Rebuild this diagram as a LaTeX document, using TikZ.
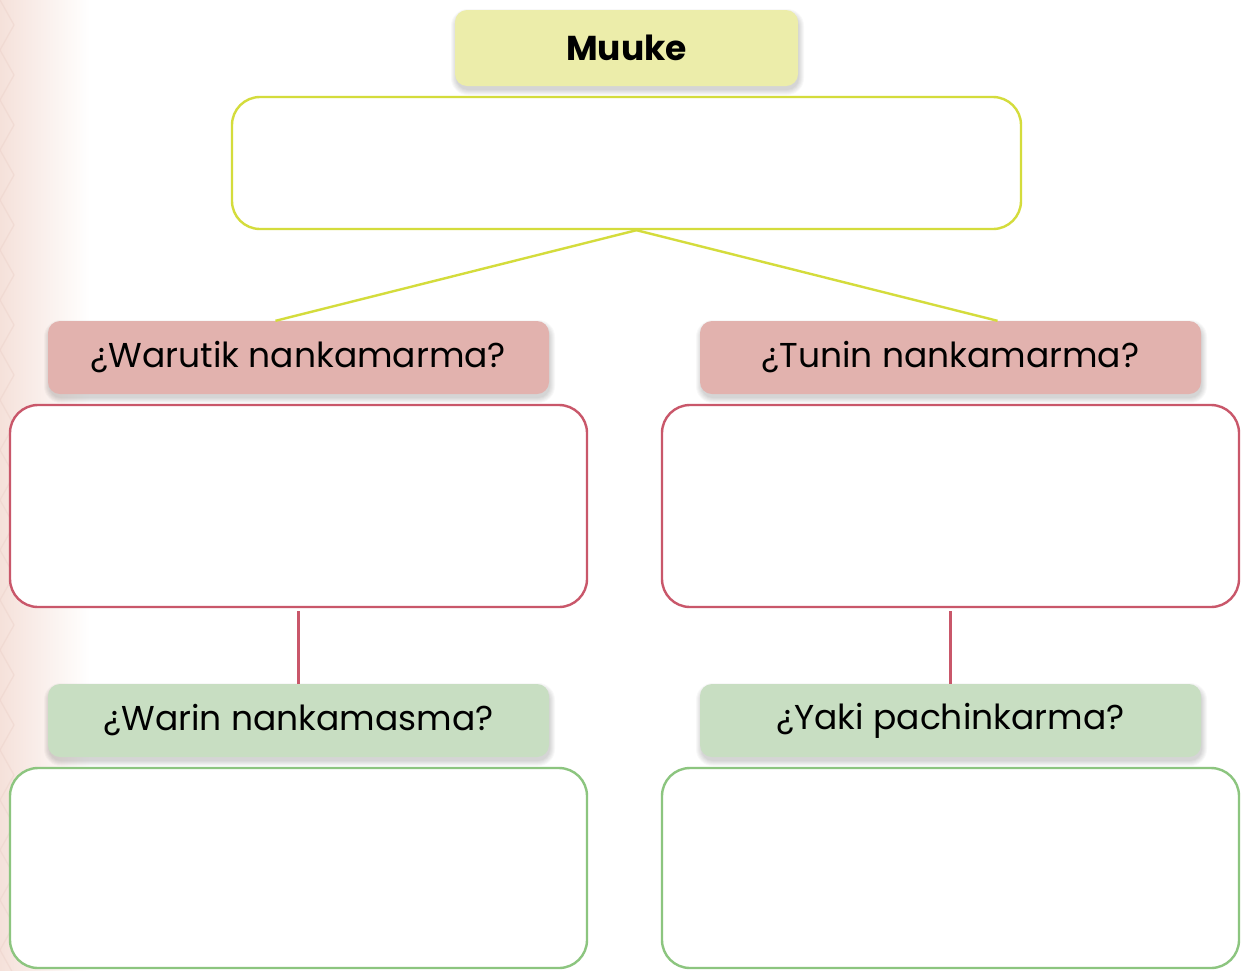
\documentclass[tikz,border=0pt]{standalone}
\usepackage{fontspec}
\setmainfont{Poppins}
\usetikzlibrary{calc}
\definecolor{ylw}{HTML}{D4DC3C}
\definecolor{ylwfill}{HTML}{ECEDAA}
\definecolor{redb}{HTML}{C9576A}
\definecolor{redfill}{HTML}{E2B2AE}
\definecolor{grnb}{HTML}{8CC57F}
\definecolor{grnfill}{HTML}{C8DEC2}
\definecolor{bgpink}{HTML}{F5E1DA}
\definecolor{zig}{HTML}{EDD3CB}
\newcommand{\mysoftshadow}[4]{%
  \foreach \s in {0,1,2,3,4,5} {
    \fill[black, opacity=0.028, rounded corners={12pt+\s pt}]
      ({#1-#3/2-\s+1},{#2-#4/2-\s+4}) rectangle ({#1+#3/2+\s+1},{#2+#4/2+\s+4});
  }%
}
\tikzset{
  header/.style={rectangle, rounded corners=12pt, minimum width=501pt, minimum height=73pt,
    inner sep=0pt, font=\fontsize{34.5}{38}\selectfont},
  answer/.style={rectangle, rounded corners=28pt, line width=2.4pt, fill=white, inner sep=0pt},
  conn/.style={line width=2.4pt},
}
\begin{document}
\begin{tikzpicture}[x=1pt,y=-1pt]
\useasboundingbox (0,0) rectangle (1242,970);
\fill[white] (0,0) rectangle (1242,970);
\shade[left color=bgpink, right color=white] (0,0) rectangle (90,970);
\foreach \k in {0,...,20} {
  \draw[zig, line width=1.3pt, opacity=0.5] (0,{\k*50}) -- (14,{\k*50+25}) -- (0,{\k*50+50});
}
% shadows
\mysoftshadow{626.5}{48}{343}{76}
\mysoftshadow{298.5}{357.5}{501}{73}
\mysoftshadow{950.5}{357.5}{501}{73}
\mysoftshadow{298.5}{720.5}{501}{73}
\mysoftshadow{950.5}{720.5}{501}{73}
% title
\node[rectangle, rounded corners=12pt, fill=ylwfill, minimum width=343pt, minimum height=76pt,
  inner sep=0pt, font=\fontsize{34.5}{40}\selectfont\bfseries]
  (title) at (626.5,48) {Muuke};
\node[answer, draw=ylw, minimum width=789pt, minimum height=132pt] (top) at (626.5,163) {};
% headers
\node[header, fill=redfill] (lh) at (298.5,357.5) {¿Warutik nankamarma?};
\node[header, fill=redfill] (rh) at (950.5,357.5) {¿Tunin nankamarma?};
\coordinate (apex) at ($(top.south)+(10,0)$);
\coordinate (lend) at ($(lh.north)+(-23,0)$);
\coordinate (rend) at ($(rh.north)+(47,0)$);
\draw[conn, ylw] (lend) -- (apex) -- (rend);
% red boxes
\node[answer, draw=redb, minimum width=577pt, minimum height=202pt] (lbox) at (298.5,506) {};
\node[answer, draw=redb, minimum width=577pt, minimum height=202pt] (rbox) at (950.5,506) {};
% green headers
\node[header, fill=grnfill] (lgh) at (298.5,720.5) {¿Warin nankamasma?};
\node[header, fill=grnfill] (rgh) at (950.5,720.5) {¿Yaki pachinkarma?};
\draw[conn, redb] ($(lbox.south)+(0,3)$) -- (lgh.north);
\draw[conn, redb] ($(rbox.south)+(0,3)$) -- (rgh.north);
% green boxes
\node[answer, draw=grnb, minimum width=577pt, minimum height=200pt] (lgbox) at (298.5,868) {};
\node[answer, draw=grnb, minimum width=577pt, minimum height=200pt] (rgbox) at (950.5,868) {};
\end{tikzpicture}
\end{document}
